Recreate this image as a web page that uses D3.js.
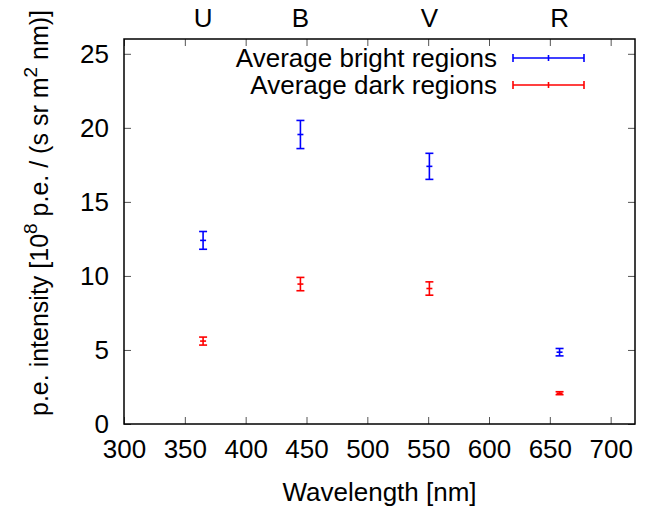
<!DOCTYPE html>
<html>
<head>
<meta charset="utf-8">
<script src="https://cdn.jsdelivr.net/npm/d3@7"></script>
<style>
  body { margin: 0; background: #fff; }
  text { font-family: "Liberation Sans", Arial, sans-serif; fill: #000; }
</style>
</head>
<body>
<div id="chart"></div>
<script>
// data
const wavelengths = [365, 445, 551, 658];
const bandLabels = ["U", "B", "V", "R"];
const brightValues = [12.4, 19.55, 17.4, 4.85];
const brightErrors = [0.6, 0.95, 0.88, 0.25];
const darkValues = [5.6, 9.45, 9.15, 2.08];
const darkErrors = [0.27, 0.45, 0.45, 0.1];
const xTicks = [300, 350, 400, 450, 500, 550, 600, 650, 700];
const yTicks = [0, 5, 10, 15, 20, 25];
const seriesNames = ["Average bright regions", "Average dark regions"];

const width = 664, height = 508;
const plotLeft = 124, plotRight = 635, plotTop = 39, plotBottom = 424;
const fontSize = 26;

const svg = d3.select("#chart").append("svg")
  .attr("width", width)
  .attr("height", height);

const x = d3.scaleLinear().domain([300, 720]).range([plotLeft, plotRight]);
const y = d3.scaleLinear().domain([0, 26]).range([plotBottom, plotTop]);

// axes (ticks inward, mirrored)
const tickLen = 7;
svg.append("g")
  .attr("transform", "translate(0," + plotBottom + ")")
  .call(d3.axisBottom(x).tickValues(xTicks).tickSizeInner(-tickLen).tickSizeOuter(0).tickPadding(16))
  .call(g => g.select(".domain").remove())
  .call(g => g.selectAll("line").attr("stroke", "#555"))
  .call(g => g.selectAll("text").attr("font-size", fontSize).attr("font-family", "Liberation Sans, Arial, sans-serif"));

svg.append("g")
  .attr("transform", "translate(0," + plotTop + ")")
  .call(d3.axisTop(x).tickValues(xTicks).tickSizeInner(-tickLen).tickSizeOuter(0).tickFormat(""))
  .call(g => g.select(".domain").remove())
  .call(g => g.selectAll("line").attr("stroke", "#555"));

svg.append("g")
  .attr("transform", "translate(" + plotLeft + ",0)")
  .call(d3.axisLeft(y).tickValues(yTicks).tickSizeInner(-tickLen).tickSizeOuter(0).tickPadding(15))
  .call(g => g.select(".domain").remove())
  .call(g => g.selectAll("line").attr("stroke", "#555"))
  .call(g => g.selectAll("text").attr("font-size", fontSize).attr("font-family", "Liberation Sans, Arial, sans-serif"));

svg.append("g")
  .attr("transform", "translate(" + plotRight + ",0)")
  .call(d3.axisRight(y).tickValues(yTicks).tickSizeInner(-tickLen).tickSizeOuter(0).tickFormat(""))
  .call(g => g.select(".domain").remove())
  .call(g => g.selectAll("line").attr("stroke", "#555"));

// top band labels
svg.append("g").selectAll("text")
  .data(bandLabels)
  .enter()
  .append("text")
  .attr("x", (d, i) => x(wavelengths[i]))
  .attr("y", 27)
  .attr("text-anchor", "middle")
  .attr("font-size", fontSize)
  .text(d => d);

// frame
svg.append("rect")
  .attr("x", plotLeft).attr("y", plotTop)
  .attr("width", plotRight - plotLeft).attr("height", plotBottom - plotTop)
  .attr("fill", "none").attr("stroke", "#000").attr("stroke-width", 1.5);

// axis titles
svg.append("text")
  .attr("x", (plotLeft + plotRight) / 2)
  .attr("y", 501)
  .attr("text-anchor", "middle")
  .attr("font-size", fontSize)
  .text("Wavelength [nm]");

const ylab = svg.append("text")
  .attr("transform", "translate(48,213) rotate(-90)")
  .attr("text-anchor", "middle")
  .attr("font-size", 25);
ylab.append("tspan").text("p.e. intensity [10");
ylab.append("tspan").attr("font-size", 19).attr("dy", -11).text("8");
ylab.append("tspan").attr("dy", 11).text(" p.e. / (s sr m");
ylab.append("tspan").attr("font-size", 19).attr("dy", -11).text("2");
ylab.append("tspan").attr("dy", 11).text(" nm)]");

// error bars
const cap = 4;
function drawSeries(values, errors, color) {
  const g = svg.append("g").attr("stroke", color).attr("stroke-width", 1.6).attr("fill", "none");
  const pts = g.selectAll("g").data(values).enter().append("g");
  pts.append("line")
    .attr("x1", (d, i) => x(wavelengths[i])).attr("x2", (d, i) => x(wavelengths[i]))
    .attr("y1", (d, i) => y(d - errors[i])).attr("y2", (d, i) => y(d + errors[i]));
  pts.append("line")
    .attr("x1", (d, i) => x(wavelengths[i]) - cap).attr("x2", (d, i) => x(wavelengths[i]) + cap)
    .attr("y1", (d, i) => y(d + errors[i])).attr("y2", (d, i) => y(d + errors[i]));
  pts.append("line")
    .attr("x1", (d, i) => x(wavelengths[i]) - cap).attr("x2", (d, i) => x(wavelengths[i]) + cap)
    .attr("y1", (d, i) => y(d - errors[i])).attr("y2", (d, i) => y(d - errors[i]));
  pts.append("line")
    .attr("x1", (d, i) => x(wavelengths[i]) - 3).attr("x2", (d, i) => x(wavelengths[i]) + 3)
    .attr("y1", d => y(d)).attr("y2", d => y(d));
}
drawSeries(brightValues, brightErrors, "#0000ff");
drawSeries(darkValues, darkErrors, "#ff0000");

// legend
const colors = ["#0000ff", "#ff0000"];
const legend = svg.append("g");
seriesNames.forEach((name, i) => {
  const ly = 58 + i * 27;
  legend.append("text")
    .attr("x", 497).attr("y", ly + 9)
    .attr("text-anchor", "end")
    .attr("font-size", fontSize)
    .text(name);
  const lg = legend.append("g").attr("stroke", colors[i]).attr("stroke-width", 1.6);
  lg.append("line").attr("x1", 513).attr("x2", 584).attr("y1", ly).attr("y2", ly);
  lg.append("line").attr("x1", 513).attr("x2", 513).attr("y1", ly - 4).attr("y2", ly + 4);
  lg.append("line").attr("x1", 584).attr("x2", 584).attr("y1", ly - 4).attr("y2", ly + 4);
  lg.append("line").attr("x1", 548.5).attr("x2", 548.5).attr("y1", ly - 3).attr("y2", ly + 3);
});
</script>
</body>
</html>
